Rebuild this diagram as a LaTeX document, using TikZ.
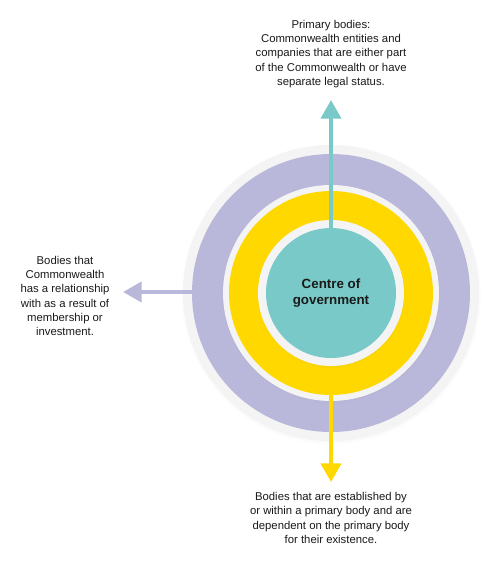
\documentclass[tikz,border=0pt]{standalone}
\usepackage{fontspec}
\setmainfont{Liberation Sans}
\usetikzlibrary{arrows.meta,shadows}
\definecolor{ringgrey}{HTML}{F4F4F4}
\definecolor{ringpurple}{HTML}{B9B8DA}
\definecolor{ringyellow}{HTML}{FFD800}
\definecolor{ringteal}{HTML}{79C9C8}
\definecolor{txt}{HTML}{1A1A1A}
\tikzset{
  disc/.style={circle, draw=none, inner sep=0pt},
  shadowed/.style={circular drop shadow={opacity=0.22, shadow xshift=0pt, shadow yshift=-0.8pt, shadow scale=1.015}},
  conn/.style={line width=3pt, -{Triangle[width=15pt,length=14pt]}},
  desc/.style={align=center, text=txt, font=\fontsize{8.5}{10.6}\selectfont, inner sep=0pt},
}
\begin{document}
\begin{tikzpicture}[x=0.75pt,y=-0.75pt]
\useasboundingbox (0,0) rectangle (503,562);
\fill[white] (0,0) rectangle (503,562);
% rings
\node[disc, shadowed, fill=ringgrey, minimum size=222pt] (outer) at (331,293) {};
\node[disc, fill=ringpurple, minimum size=208.5pt] (purple) at (331,293) {};
\node[disc, shadowed, fill=ringgrey, minimum size=162pt] (gap2) at (331,293) {};
\node[disc, fill=ringyellow, minimum size=153pt] (yellow) at (331,293) {};
\node[disc, shadowed, fill=ringgrey, minimum size=109.5pt] (gap3) at (331,293) {};
\node[disc, fill=ringteal, minimum size=97.5pt, align=center, text=txt,
      font=\bfseries\fontsize{10}{12}\selectfont] (core) at (331,293) {Centre of\\government};
% arrow ends
\coordinate (toptip) at (331,100);
\coordinate (lefttip) at (123,292);
\coordinate (bottip) at (331,482);
\draw[conn, ringteal] (core.north) -- (toptip);
\draw[conn, ringpurple] (purple.west |- lefttip) -- (lefttip);
\draw[conn, ringyellow] (yellow.south) -- (bottip);
% texts
\node[desc] (toptext) at (331,54) {Primary bodies:\\Commonwealth entities and\\companies that are either part\\of the Commonwealth or have\\separate legal status.};
\node[desc] (lefttext) at (65,296) {Bodies that\\Commonwealth\\has a relationship\\with as a result of\\membership or\\investment.};
\node[desc] (bottext) at (331,518) {Bodies that are established by\\or within a primary body and are\\dependent on the primary body\\for their existence.};
\end{tikzpicture}
\end{document}
